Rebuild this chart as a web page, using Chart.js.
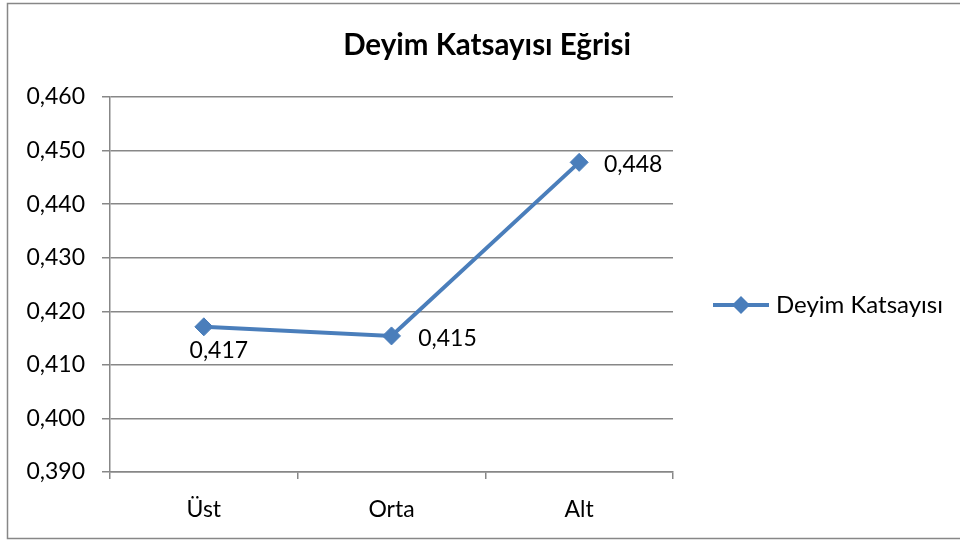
<!DOCTYPE html>
<html><head><meta charset="utf-8">
<script src="https://cdn.jsdelivr.net/npm/chart.js@4"></script>
<style>html,body{margin:0;padding:0;background:#fff}#wrap{width:960px;height:540px;position:relative}</style>
</head><body><div id="wrap"><canvas id="c" width="960" height="540"></canvas></div>
<script>
// ---- data ----
const chartTitle = 'Deyim Katsayısı Eğrisi';
const categories = ['Üst', 'Orta', 'Alt'];
const seriesName = 'Deyim Katsayısı';
const seriesValues = [0.4171, 0.4154, 0.4478];
const dataLabels = ['0,417', '0,415', '0,448'];
const yTickValues = [0.39, 0.40, 0.41, 0.42, 0.43, 0.44, 0.45, 0.46];
const yTickLabels = ['0,390', '0,400', '0,410', '0,420', '0,430', '0,440', '0,450', '0,460'];

// ---- style ----
const BLUE = '#4A7EBB';
const GRID = '#878787';
const FONT = 'Lato';
const labelOffsets = [[15, 24], [56, 3], [54, 2]];

const legendIcon = document.createElement('canvas');
legendIcon.width = 56; legendIcon.height = 20;
(function () {
  const g = legendIcon.getContext('2d');
  g.strokeStyle = BLUE; g.lineWidth = 4;
  g.beginPath(); g.moveTo(0, 10); g.lineTo(56, 10); g.stroke();
  g.fillStyle = BLUE;
  g.beginPath(); g.moveTo(19, 10); g.lineTo(28, 1); g.lineTo(37, 10); g.lineTo(28, 19); g.closePath(); g.fill();
})();

const frame = {
  id: 'frame',
  beforeDraw(chart) {
    const c = chart.ctx;
    c.save();
    c.fillStyle = '#fff';
    c.fillRect(0, 0, chart.width, chart.height);
    c.strokeStyle = GRID; c.lineWidth = 1.5;
    c.strokeRect(7.5, 3.5, 960, 535);
    c.restore();
  }
};

const valueLabels = {
  id: 'valueLabels',
  afterDatasetsDraw(chart) {
    const c = chart.ctx;
    const meta = chart.getDatasetMeta(0);
    c.save();
    c.font = '23px ' + FONT;
    c.fillStyle = '#000';
    c.textAlign = 'center';
    c.textBaseline = 'middle';
    meta.data.forEach((pt, i) => {
      c.fillText(dataLabels[i], pt.x + labelOffsets[i][0], pt.y + labelOffsets[i][1]);
    });
    c.restore();
  }
};

new Chart(document.getElementById('c'), {
  type: 'line',
  data: {
    labels: categories,
    datasets: [{
      label: seriesName,
      data: seriesValues,
      borderColor: BLUE,
      backgroundColor: BLUE,
      borderWidth: 4,
      tension: 0,
      pointStyle: 'rectRot',
      pointRadius: 9,
      pointHoverRadius: 9,
      pointBackgroundColor: BLUE,
      pointBorderColor: BLUE,
      pointBorderWidth: 1
    }]
  },
  options: {
    responsive: false,
    animation: false,
    layout: { padding: { left: 26, right: 12, top: 0, bottom: 16.8 } },
    plugins: {
      title: {
        display: true,
        text: chartTitle,
        color: '#000',
        font: { family: FONT, size: 29.5, weight: 'bold', lineHeight: 1.2 },
        padding: { top: 27.4, bottom: 34.2 }
      },
      legend: {
        display: true,
        position: 'right',
        align: 'center',
        fullSize: false,
        maxWidth: 275,
        title: { display: true, text: ' ', font: { size: 11, lineHeight: 1 }, padding: { top: 15, bottom: 15 } },
        labels: {
          usePointStyle: true,
          pointStyle: legendIcon,
          pointStyleWidth: 46,
          padding: 45,
          color: '#000',
          font: { family: FONT, size: 24 }
        }
      },
      tooltip: { enabled: false }
    },
    scales: {
      x: {
        type: 'category',
        offset: true,
        afterFit(s) { s.height = 51.2; },
        grid: { display: true, offset: true, drawOnChartArea: false, drawTicks: true, tickLength: 7, color: GRID, lineWidth: 1.5 },
        border: { display: true, color: GRID, width: 1.5 },
        ticks: { color: '#000', font: { family: FONT, size: 23, lineHeight: 1.2 }, padding: 16.6, maxRotation: 0 }
      },
      y: {
        min: yTickValues[0],
        max: yTickValues[yTickValues.length - 1],
        afterFit(s) { s.width = 84; },
        afterBuildTicks(s) { s.ticks = yTickValues.map(v => ({ value: v })); },
        grid: { display: true, drawOnChartArea: true, drawTicks: true, tickLength: 8, color: GRID, lineWidth: 1.5 },
        border: { display: true, color: GRID, width: 1.5 },
        ticks: {
          color: '#000',
          font: { family: FONT, size: 23, lineHeight: 1.2 },
          padding: 17,
          callback: (v, i) => yTickLabels[i]
        }
      }
    }
  },
  plugins: [frame, valueLabels]
});
</script>
</body></html>
